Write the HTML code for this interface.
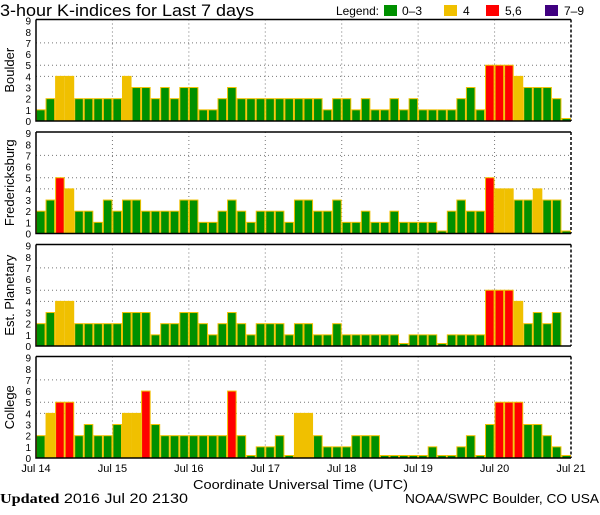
<!DOCTYPE html>
<html><head><meta charset="utf-8"><style>
body{margin:0;background:#fff;width:600px;height:510px;overflow:hidden}
svg text{font-family:"Liberation Sans",sans-serif}
</style></head><body>
<svg id="c" width="600" height="510" xmlns="http://www.w3.org/2000/svg">
<text x="0" y="16" font-size="17" textLength="254" lengthAdjust="spacingAndGlyphs">3-hour K-indices for Last 7 days</text>
<g font-size="12">
<text x="336" y="15" textLength="43" lengthAdjust="spacingAndGlyphs">Legend:</text>
<rect x="384" y="5" width="13" height="11" fill="#009000"/>
<text x="402" y="15">0–3</text>
<rect x="444" y="5" width="13" height="11" fill="#f0c000"/>
<text x="463" y="15">4</text>
<rect x="486" y="5" width="13" height="11" fill="#ff0000"/>
<text x="505" y="15">5,6</text>
<rect x="545" y="5" width="13" height="11" fill="#400080"/>
<text x="564" y="15">7–9</text>
</g>
<text x="193" y="489" font-size="13" textLength="215" lengthAdjust="spacingAndGlyphs">Coordinate Universal Time (UTC)</text>
<text x="0" y="503" font-size="14" textLength="188" lengthAdjust="spacingAndGlyphs"><tspan font-family="Liberation Serif" font-weight="bold">Updated</tspan> 2016 Jul 20 2130</text>
<text x="405" y="503" font-size="13" textLength="194" lengthAdjust="spacingAndGlyphs">NOAA/SWPC Boulder, CO USA</text>
</svg>
<script>
const stations = ["Boulder","Fredericksburg","Est. Planetary","College"];
const boulder = [1,2,4,4,2,2,2,2,2,4,3,3,2,3,2,3,3,1,1,2,3,2,2,2,2,2,2,2, 2,2,1,2,2,1,2,1,1,2,1,2,1,1,1,1,2,3,1,5,5,5,4,3,3,3,2,0];
const fredericksburg = [2,3,5,4,2,2,1,3,2,3,3,2,2,2,2,3,3,1,1,2,3,2,1,2,2,2,1,3, 3,2,2,3,1,1,2,1,1,2,1,1,1,1,0,2,3,2,2,5,4,4,3,3,4,3,3,0];
const planetary = [2,3,4,4,2,2,2,2,2,3,3,3,1,2,2,3,3,2,1,2,3,2,1,2,2,2,1,2, 2,1,1,2,1,1,1,1,1,1,0,1,1,1,0,1,1,1,1,5,5,5,4,2,3,2,3,null];
const college = [2,4,5,5,2,3,2,2,3,4,4,6,3,2,2,2,2,2,2,2,6,2,0,1,1,2,0,4, 4,2,1,1,1,2,2,2,0,0,0,0,0,1,0,0,1,2,0,3,5,5,5,3,3,2,1,0];
const dayLabels = ["Jul 14","Jul 15","Jul 16","Jul 17","Jul 18","Jul 19","Jul 20","Jul 21"];
const yTicks = [0,1,2,3,4,5,6,7,8,9];
const gridLevels = [4,5,7];

const series=[boulder,fredericksburg,planetary,college];
const svg=document.getElementById('c');
const NS="http://www.w3.org/2000/svg";
const X0=36,X1=571,N=56,H=101.5,U=H/9.1;
const tops=[19.5,132,244.5,356.5];
function mk(t,a,p){const e=document.createElementNS(NS,t);for(const k in a)e.setAttribute(k,a[k]);(p||svg).appendChild(e);return e;}
function xs(i){return X0+i*(X1-X0)/N;}
function xd(d){return X0+d*(X1-X0)/7;}
function col(v){return v>=7?"#400080":v>=5?"#ff0000":v>=4?"#f0c000":"#009000";}
stations.forEach((st,p)=>{
  const top=tops[p],bot=top+H;
  const ys=v=>bot-v*U;
  const g=mk('g',{});
  
  
  const lab=mk('text',{x:0,y:0,'font-size':13,'text-anchor':'middle',transform:`translate(14,${(top+bot)/2}) rotate(-90)`},g);
  lab.textContent=st;
  
  
  yTicks.forEach(t=>{const e=mk('text',{x:31,y:ys(t)+4,'font-size':10,'text-anchor':'end'},g);e.textContent=t;
    
    });
  gridLevels.forEach(l=>{const e=mk('line',{x1:X0,x2:X1,y1:ys(l),y2:ys(l),stroke:'#777','stroke-dasharray':'1,3'},g);
    
    });
  for(let d=1;d<7;d++){const e=mk('line',{x1:xd(d),x2:xd(d),y1:top,y2:bot,stroke:'#777','stroke-dasharray':'1,3'},g);
    
    }
  series[p].forEach((v,i)=>{
    if(v===null)return;
    const h=v===0?2.5:v*U;
    const r=mk('rect',{x:xs(i)+0.5,y:bot-h,width:(X1-X0)/N-1,height:h,fill:col(v),stroke:'#f0c000','stroke-width':1},g);
    
    
  });
  const ax=mk('path',{d:`M${X0},${top}H${X1}M${X0},${top}V${bot}H${X1}`,stroke:'#000','stroke-width':1.5,fill:'none'},g);
  
  
  const rr=mk('line',{x1:X1,x2:X1,y1:top,y2:bot,stroke:'#000','stroke-width':1.5,'stroke-dasharray':'3,2'},g);
  
  
});
dayLabels.forEach((d,i)=>{const e=mk('text',{x:xd(i),y:472,'font-size':11,'text-anchor':'middle'});e.textContent=d;
  
  });
</script>
</body></html>
